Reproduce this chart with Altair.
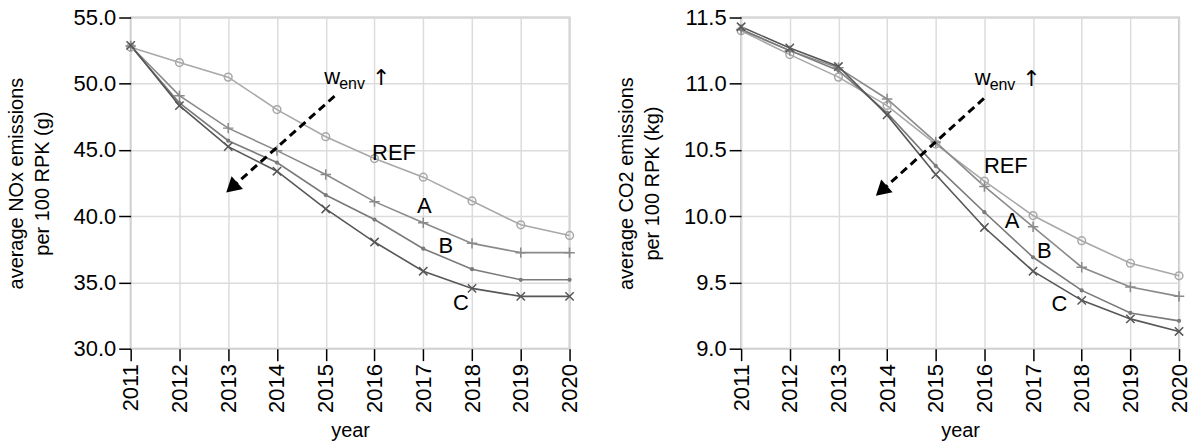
import altair as alt
import pandas as pd

# ---- data -------------------------------------------------------------
years = list(range(2011, 2021))
series_names = ["REF", "A", "B", "C"]

# average NOx emissions per 100 RPK (g)
nox_ref = [52.75, 51.6, 50.5, 48.05, 46.0, 44.35, 42.95, 41.15, 39.35, 38.55]
nox_a = [52.85, 49.1, 46.65, 44.95, 43.15, 41.1, 39.5, 37.95, 37.25, 37.25]
nox_b = [52.85, 48.55, 45.7, 44.05, 41.6, 39.75, 37.55, 36.0, 35.2, 35.2]
nox_c = [52.9, 48.35, 45.25, 43.4, 40.55, 38.05, 35.85, 34.55, 33.95, 33.95]

# average CO2 emissions per 100 RPK (kg)
co2_ref = [11.40, 11.22, 11.05, 10.835, 10.545, 10.265, 10.005, 9.815, 9.645, 9.55]
co2_a = [11.41, 11.25, 11.12, 10.885, 10.56, 10.225, 9.92, 9.615, 9.465, 9.395]
co2_b = [11.41, 11.25, 11.10, 10.78, 10.38, 10.03, 9.69, 9.44, 9.27, 9.21]
co2_c = [11.43, 11.27, 11.13, 10.765, 10.315, 9.915, 9.585, 9.365, 9.225, 9.13]

nox_ticks = [30.0, 35.0, 40.0, 45.0, 50.0, 55.0]
co2_ticks = [9.0, 9.5, 10.0, 10.5, 11.0, 11.5]

# series label anchors (year, value)
nox_label_x = [2016.40, 2017.02, 2017.46, 2017.77]
nox_label_y = [44.77, 40.79, 37.78, 33.42]
co2_label_x = [2016.44, 2016.57, 2017.23, 2017.54]
co2_label_y = [10.38, 9.966, 9.74, 9.335]

# dashed "w_env increases" arrow: start and tip (year, value)
nox_arrow = [2015.18, 49.06, 2012.96, 41.79]
co2_arrow = [2015.99, 10.889, 2013.77, 10.154]
# w_env caption anchor (left edge of "w", baseline)
nox_caption = [2014.97, 49.95]
co2_caption = [2015.80, 10.99]

# ---- styling ----------------------------------------------------------
FONT = "Liberation Sans"
colors = ["#a8a8a8", "#8a8a8a", "#7a7a7a", "#575757"]
shapes = ["circle", "M-1,0L1,0M0,-1L0,1", "circle", "M-1,-1L1,1M-1,1L1,-1"]
sizes = [60, 110, 18, 70]
filled = [False, False, True, False]


def long_table(series_values):
    rows = []
    for name, vals in zip(series_names, series_values):
        for yr, v in zip(years, vals):
            rows.append({"year": yr, "value": v, "series": name})
    return pd.DataFrame(rows)


def panel(series_values, ticks, title_lines, label_x, label_y, arrow, caption, width):
    df = long_table(series_values)
    x = alt.X(
        "year:Q",
        scale=alt.Scale(domain=[years[0], years[-1]], nice=False, zero=False),
        axis=alt.Axis(values=years, format="d", labelAngle=-90, labelFlush=False,
                      labelOverlap=False, labelPadding=3, title="year", titlePadding=8),
    )
    y = alt.Y(
        "value:Q",
        scale=alt.Scale(domain=[ticks[0], ticks[-1]], nice=False, zero=False),
        axis=alt.Axis(values=ticks, format=".1f", title=title_lines, titlePadding=21,
                      titleLineHeight=26, labelPadding=3),
    )
    color = alt.Color("series:N", scale=alt.Scale(domain=series_names, range=colors),
                      legend=None)

    layers = [alt.Chart(df).mark_line(strokeWidth=1.6).encode(x=x, y=y, color=color)]
    for i, name in enumerate(series_names):
        layers.append(
            alt.Chart(df).transform_filter(alt.datum.series == name)
            .mark_point(shape=shapes[i], size=sizes[i], filled=filled[i],
                        strokeWidth=1.5, color=colors[i], opacity=1)
            .encode(x="year:Q", y="value:Q")
        )

    labels = pd.DataFrame({"year": label_x, "value": label_y, "text": series_names})
    layers.append(
        alt.Chart(labels).mark_text(font=FONT, fontSize=22, color="black",
                                    align="center", baseline="middle")
        .encode(x="year:Q", y="value:Q", text="text:N")
    )

    # dashed arrow with a solid head at the tip
    x0, y0, x1, y1 = arrow
    f = 0.09
    arrow_df = pd.DataFrame({"year": [x0], "value": [y0],
                             "year2": [x1 + (x0 - x1) * f],
                             "value2": [y1 + (y0 - y1) * f]})
    layers.append(
        alt.Chart(arrow_df).mark_rule(color="black", strokeWidth=3, strokeDash=[8, 5])
        .encode(x="year:Q", y="value:Q", x2="year2:Q", y2="value2:Q")
    )
    head_df = pd.DataFrame({"year": [x1], "value": [y1]})
    layers.append(
        alt.Chart(head_df).mark_point(shape="M0,0L1.15,2L-1.15,2Z", size=220, angle=228,
                                      filled=True, color="black", opacity=1)
        .encode(x="year:Q", y="value:Q")
    )

    cap_df = pd.DataFrame({"year": [caption[0]], "value": [caption[1]]})
    base = alt.Chart(cap_df).encode(x="year:Q", y="value:Q")
    layers.append(base.mark_text(text="w", font=FONT, fontSize=22, align="left",
                                 baseline="alphabetic", color="black"))
    layers.append(base.mark_text(text="env", font=FONT, fontSize=16, align="left",
                                 baseline="alphabetic", dx=15, dy=5, color="black"))
    layers.append(base.mark_text(text="↑", font="DejaVu Sans", fontSize=22,
                                 align="center", baseline="alphabetic", dx=57, dy=1,
                                 color="black"))

    return alt.layer(*layers).properties(width=width, height=332)


left = panel([nox_ref, nox_a, nox_b, nox_c], nox_ticks,
             ["average NOx emissions", "per 100 RPK (g)"],
             nox_label_x, nox_label_y, nox_arrow, nox_caption, 440)
right = panel([co2_ref, co2_a, co2_b, co2_c], co2_ticks,
              ["average CO2 emissions", "per 100 RPK (kg)"],
              co2_label_x, co2_label_y, co2_arrow, co2_caption, 439)

chart = (
    alt.hconcat(left, right, spacing=34)
    .properties(padding={"left": 5, "top": 5, "right": 0, "bottom": 2})
    .configure(font=FONT)
    .configure_view(stroke="#c4c4c4", strokeWidth=2)
    .configure_axis(
        labelFont=FONT, titleFont=FONT, labelFontSize=22, titleFontSize=20,
        titleFontWeight="normal", labelColor="black", titleColor="black",
        tickColor="black", tickSize=12, tickWidth=1.5, domain=False,
        gridColor="#dcdcdc", gridWidth=1.5,
    )
)

chart.save("out.html", embed_options={"renderer": "svg", "actions": False})
